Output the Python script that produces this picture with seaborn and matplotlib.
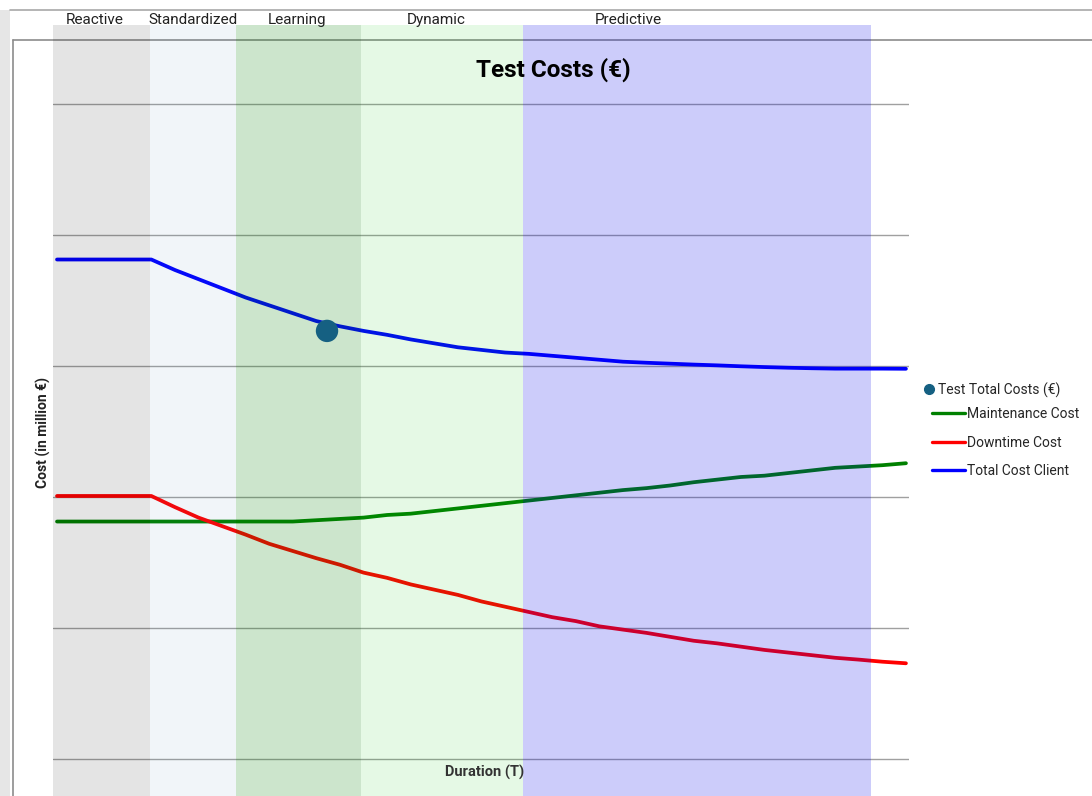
import pandas as pd
import matplotlib
matplotlib.use("Agg")
import matplotlib.pyplot as plt
from matplotlib.lines import Line2D
from matplotlib.patches import Rectangle
from matplotlib.transforms import blended_transform_factory
import seaborn as sns

# values (cost in million EUR, duration in steps)
duration = list(range(37))
maintenance_cost = [1.81, 1.81, 1.81, 1.81, 1.81, 1.81, 1.81, 1.81, 1.81, 1.81,
                    1.81, 1.82, 1.83, 1.84, 1.86, 1.87, 1.89, 1.91, 1.93, 1.95,
                    1.97, 1.99, 2.01, 2.03, 2.05, 2.065, 2.085, 2.11, 2.13, 2.15,
                    2.16, 2.18, 2.20, 2.22, 2.23, 2.24, 2.255]
downtime_cost = [2.005, 2.005, 2.005, 2.005, 2.005, 1.92, 1.84, 1.775, 1.71, 1.64,
                 1.585, 1.53, 1.48, 1.42, 1.38, 1.33, 1.29, 1.25, 1.20, 1.16,
                 1.12, 1.08, 1.05, 1.01, 0.985, 0.96, 0.93, 0.90, 0.88, 0.855,
                 0.83, 0.81, 0.79, 0.77, 0.756, 0.74, 0.728]
total_cost_client = [3.81, 3.81, 3.81, 3.81, 3.81, 3.73, 3.66, 3.59, 3.52, 3.46,
                     3.40, 3.34, 3.30, 3.265, 3.235, 3.20, 3.17, 3.14, 3.12, 3.10,
                     3.09, 3.075, 3.06, 3.045, 3.03, 3.022, 3.015, 3.008, 3.002, 2.995,
                     2.989, 2.984, 2.98, 2.977, 2.977, 2.977, 2.976]
test_t = [11.45]
test_cost = [3.265]

phases = ["Reactive", "Standardized", "Learning", "Dynamic", "Predictive"]
phase_edges = [-0.17, 3.94, 7.59, 12.89, 19.76, 34.52]

# layout / style
phase_colors = [((0, 0, 0), 0.105), ((70/255, 130/255, 180/255), 0.075),
                ((0, 0.5, 0), 0.2), ((0, 0.78, 0), 0.1), ((0, 0, 0.9), 0.2)]
phase_label_x = [1.61, 5.77, 10.18, 16.07, 24.22]
series_colors = {"Maintenance Cost": "#008000", "Downtime Cost": "#ff0000",
                 "Total Cost Client": "#0000ff"}
W, H = 1092, 796

sns.set_theme(style="white")
plt.rcParams['font.family'] = ['Roboto', 'DejaVu Sans']

df = pd.DataFrame({"Duration": duration,
                   "Maintenance Cost": maintenance_cost,
                   "Downtime Cost": downtime_cost,
                   "Total Cost Client": total_cost_client})
long = df.melt(id_vars="Duration", var_name="Series", value_name="Cost")

fig = plt.figure(figsize=(W / 100, H / 100), dpi=100)
fig.patch.set_facecolor("white")

# window frame bits (screenshot look)
fig.add_artist(Rectangle((0, 0), 10 / W, 1 - 10 / H, transform=fig.transFigure,
                         facecolor="#e6e6e6", edgecolor="none", zorder=-3))
fig.add_artist(Line2D([10 / W, 1], [1 - 10 / H] * 2, transform=fig.transFigure,
                      color="#a8a8a8", lw=1.2, zorder=-2))
fig.add_artist(Line2D([12.5 / W, 1], [1 - 40 / H] * 2, transform=fig.transFigure,
                      color="#8c8c8c", lw=1.2, zorder=-2))
fig.add_artist(Line2D([12.5 / W] * 2, [0, 1 - 40 / H], transform=fig.transFigure,
                      color="#8c8c8c", lw=1.2, zorder=-2))

ax = fig.add_axes([53 / W, 0, (909 - 53) / W, (H - 25) / H])
ax.set_xlim(-0.17, 36.13)
ax.set_ylim(-0.285, 5.60)
ax.axis("off")

for g in range(6):
    ax.axhline(g, color="#a0a0a0", lw=1.0, zorder=1)

sns.lineplot(data=long, x="Duration", y="Cost", hue="Series", palette=series_colors,
             linewidth=2.7, legend=False, ax=ax, zorder=2)

for i, name in enumerate(phases):
    col, a = phase_colors[i]
    ax.axvspan(phase_edges[i], phase_edges[i + 1], color=col, alpha=a, lw=0, zorder=3)

sns.scatterplot(x=test_t, y=test_cost, color="#156082", s=260, edgecolor="none",
                ax=ax, zorder=4, legend=False)

trans = blended_transform_factory(ax.transData, fig.transFigure)
for name, x in zip(phases, phase_label_x):
    ax.text(x, 1 - 20 / H, name, transform=trans, ha="center", va="center",
            fontsize=11, color="#222222")

fig.text(553 / W, 1 - 70 / H, "Test Costs (€)", ha="center", va="center",
         fontsize=17.5, fontweight="bold", color="black")
fig.text(43 / W, 1 - 432 / H, "Cost (in million €)", rotation=90, ha="center",
         va="center", fontsize=10, fontweight="bold", color="#222222")
fig.text(485 / W, 1 - 772 / H, "Duration (T)", ha="center", va="center",
         fontsize=10.5, fontweight="bold", color="#333333")

dot_handle = Line2D([], [], marker="o", ls="none", color="#156082", markersize=7)
fig.legend(handles=[dot_handle], labels=["Test Total Costs (€)"], loc="center left",
           bbox_to_anchor=(925 / W, 1 - 390 / H), frameon=False, fontsize=10,
           handlelength=0.6, handletextpad=0.3, borderpad=0, borderaxespad=0)

line_handles = [Line2D([], [], color=series_colors[n], lw=2.4) for n in
                ["Maintenance Cost", "Downtime Cost", "Total Cost Client"]]
fig.legend(handles=line_handles,
           labels=["Maintenance Cost", "Downtime Cost", "Total Cost Client"],
           loc="upper left", bbox_to_anchor=(932 / W, 1 - 407 / H), frameon=False,
           fontsize=10, handlelength=2.4, handletextpad=0.1, labelspacing=1.05,
           borderpad=0, borderaxespad=0)

fig.savefig("out.png", dpi=100)
